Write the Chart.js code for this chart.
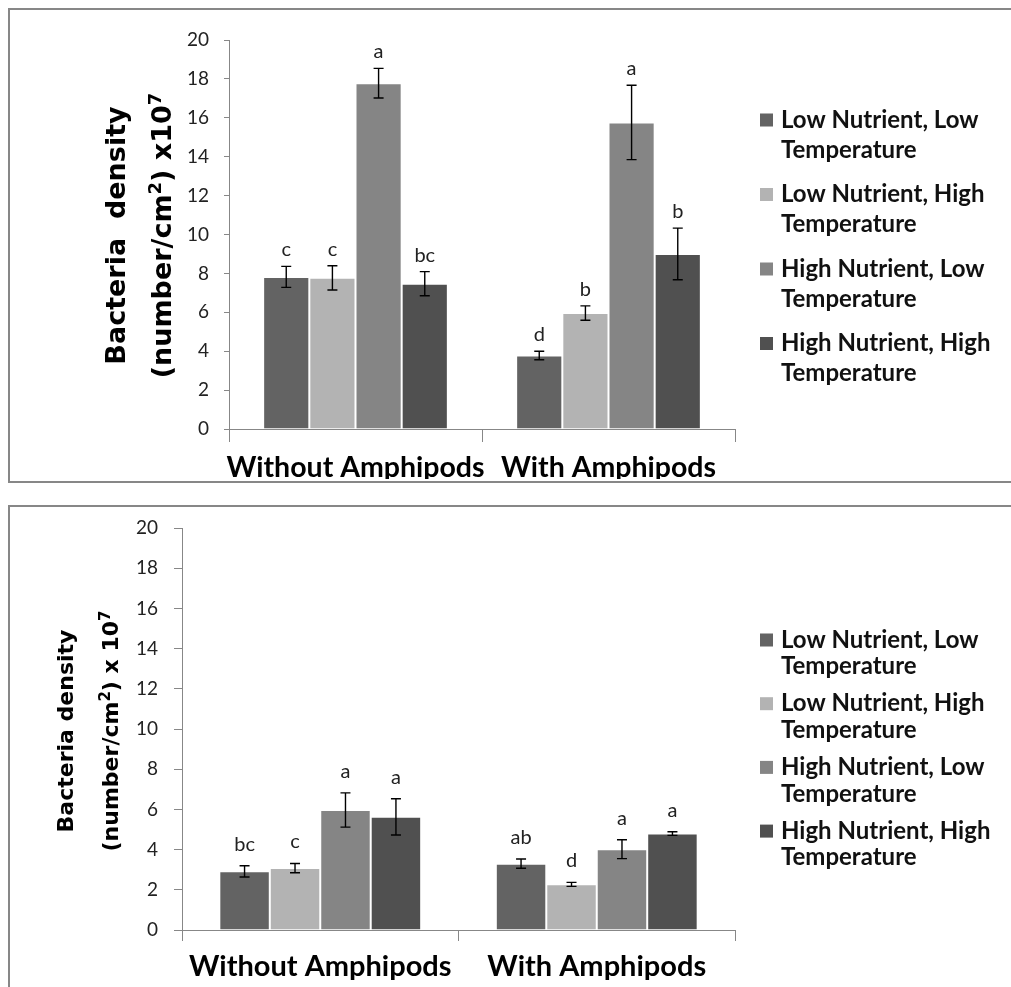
<!DOCTYPE html>
<html>
<head>
<meta charset="utf-8">
<title>Bacteria density</title>
<script src="https://cdn.jsdelivr.net/npm/chart.js@4.4.1/dist/chart.umd.min.js"></script>
<style>
  body { margin: 0; background: #fff; width: 1011px; height: 987px; overflow: hidden; position: relative; }
  .frame { position: absolute; border: 2px solid #878787; box-sizing: border-box; }
  #frameTop { left: 8px; top: 8px; width: 1020px; height: 475px; }
  #frameBottom { left: 8px; top: 505px; width: 1020px; height: 500px; }
  canvas { position: absolute; left: 0; }
  #chartTop { top: 0; }
  #chartBottom { top: 490px; }
</style>
</head>
<body>
<div class="frame" id="frameTop"></div>
<div class="frame" id="frameBottom"></div>
<canvas id="chartTop" width="1011" height="485"></canvas>
<canvas id="chartBottom" width="1011" height="497"></canvas>
<script>
// Data
const categories = ['Without Amphipods', 'With Amphipods'];
const seriesNames = [
    'Low Nutrient, Low Temperature',
    'Low Nutrient, High Temperature',
    'High Nutrient, Low Temperature',
    'High Nutrient, High Temperature'
];
const seriesColors = ['#636363', '#b3b3b3', '#858585', '#505050'];
const yTickValues = [0, 2, 4, 6, 8, 10, 12, 14, 16, 18, 20];

// top panel
const topLowLow = [7.82, 3.78];
const topLowHigh = [7.77, 5.96];
const topHighLow = [17.78, 15.76];
const topHighHigh = [7.47, 9.0];
const topLowLowErr = [0.54, 0.22];
const topLowHighErr = [0.62, 0.37];
const topHighLowErr = [0.76, 1.91];
const topHighHighErr = [0.62, 1.33];
const topLowLowSig = ['c', 'd'];
const topLowHighSig = ['c', 'b'];
const topHighLowSig = ['a', 'a'];
const topHighHighSig = ['bc', 'b'];

// bottom panel
const botLowLow = [2.92, 3.30];
const botLowHigh = [3.08, 2.27];
const botHighLow = [5.97, 4.02];
const botHighHigh = [5.63, 4.80];
const botLowLowErr = [0.28, 0.23];
const botLowHighErr = [0.23, 0.10];
const botHighLowErr = [0.85, 0.47];
const botHighHighErr = [0.90, 0.09];
const botLowLowSig = ['bc', 'ab'];
const botLowHighSig = ['c', 'd'];
const botHighLowSig = ['a', 'a'];
const botHighHighSig = ['a', 'a'];

const axisGrey = '#878787';

// Error bars + significance letters
const errorBarPlugin = {
    id: 'errorBars',
    afterDatasetsDraw(chart, args, o) {
        const ctx = chart.ctx;
        const y = chart.scales.y;
        ctx.save();
        chart.data.datasets.forEach((ds, di) => {
            const meta = chart.getDatasetMeta(di);
            meta.data.forEach((bar, i) => {
                const v = ds.data[i];
                const e = ds.errors[i];
                const yt = y.getPixelForValue(v + e);
                const yb = y.getPixelForValue(v - e);
                ctx.strokeStyle = '#000';
                ctx.lineWidth = 1.4;
                ctx.beginPath();
                ctx.moveTo(bar.x, yt); ctx.lineTo(bar.x, yb);
                ctx.moveTo(bar.x - o.cap, yt); ctx.lineTo(bar.x + o.cap, yt);
                ctx.moveTo(bar.x - o.cap, yb); ctx.lineTo(bar.x + o.cap, yb);
                ctx.stroke();
                ctx.fillStyle = '#222';
                ctx.font = o.letterFont;
                ctx.textAlign = 'center';
                ctx.textBaseline = 'alphabetic';
                ctx.fillText(ds.letters[i], bar.x, yt - o.letterGap);
            });
        });
        ctx.restore();
    }
};

// Legend on the right, labels wrapped on two lines
const sideLegendPlugin = {
    id: 'sideLegend',
    afterDraw(chart, args, o) {
        const ctx = chart.ctx;
        ctx.save();
        ctx.font = o.font;
        ctx.textBaseline = 'middle';
        ctx.textAlign = 'left';
        chart.data.datasets.forEach((ds, i) => {
            const words = ds.label.split(' ');
            const lines = [];
            let cur = '';
            words.forEach(w => {
                const test = cur ? cur + ' ' + w : w;
                if (cur && ctx.measureText(test).width > o.maxWidth) {
                    lines.push(cur);
                    cur = w;
                } else {
                    cur = test;
                }
            });
            lines.push(cur);
            const y0 = o.top + i * o.itemGap;
            ctx.fillStyle = ds.backgroundColor;
            ctx.fillRect(o.boxX, y0 - o.box / 2, o.box, o.box);
            ctx.fillStyle = '#111';
            lines.forEach((ln, k) => ctx.fillText(ln, o.textX, y0 + k * o.lineGap));
        });
        ctx.restore();
    }
};

// Rotated two-line y axis title, with superscripts drawn as smaller raised runs
const yTitlePlugin = {
    id: 'yTitle',
    afterDraw(chart, args, o) {
        const ctx = chart.ctx;
        const area = chart.chartArea;
        const cy = (area.top + area.bottom) / 2 + o.shift;
        const fam = '"DejaVu Sans", Verdana, sans-serif';
        const supSize = Math.round(o.size * 0.68);
        ctx.save();
        ctx.fillStyle = '#000';
        ctx.textAlign = 'left';
        ctx.textBaseline = 'alphabetic';
        o.lines.forEach((segs, k) => {
            let total = 0;
            segs.forEach(([txt, sup]) => {
                ctx.font = 'bold ' + (sup ? supSize : o.size) + 'px ' + fam;
                total += ctx.measureText(txt).width;
            });
            ctx.save();
            ctx.translate(o.baselines[k], cy);
            ctx.rotate(-Math.PI / 2);
            let x = -total / 2;
            segs.forEach(([txt, sup]) => {
                ctx.font = 'bold ' + (sup ? supSize : o.size) + 'px ' + fam;
                ctx.fillText(txt, x, sup ? -o.size * 0.36 : 0);
                x += ctx.measureText(txt).width;
            });
            ctx.restore();
        });
        ctx.restore();
    }
};

function makePanel(canvasId, values, errors, letters, geo) {
    const datasets = seriesNames.map((name, i) => ({
        label: name,
        data: values[i],
        errors: errors[i],
        letters: letters[i],
        backgroundColor: seriesColors[i],
        borderColor: 'rgba(255,255,255,0.35)',
        borderWidth: 1,
        barPercentage: 1.0,
        categoryPercentage: 0.73
    }));

    return new Chart(document.getElementById(canvasId), {
        type: 'bar',
        data: { labels: categories, datasets: datasets },
        options: {
            responsive: false,
            animation: false,
            layout: { padding: geo.padding },
            scales: {
                x: {
                    grid: { drawOnChartArea: false, tickLength: geo.xTick, color: axisGrey },
                    border: { color: axisGrey },
                    ticks: {
                        autoSkip: false, maxRotation: 0, color: '#000', padding: geo.xPad,
                        font: { family: 'Lato', weight: 'bold', size: geo.xFont }
                    },
                    afterFit(scale) { scale.height = geo.xHeight; }
                },
                y: {
                    min: 0,
                    max: 20,
                    grid: { drawOnChartArea: false, tickLength: geo.yTick, color: axisGrey },
                    border: { color: axisGrey },
                    ticks: {
                        color: '#222', padding: geo.yPad,
                        font: { family: 'Lato', size: geo.yFont }
                    },
                    afterBuildTicks(scale) { scale.ticks = yTickValues.map(v => ({ value: v })); },
                    afterFit(scale) { scale.width = geo.yWidth; }
                }
            },
            plugins: {
                legend: { display: false },
                tooltip: { enabled: false },
                errorBars: { cap: 5, letterFont: '20px Lato', letterGap: geo.letterGap },
                sideLegend: geo.legend,
                yTitle: geo.title
            }
        },
        plugins: [errorBarPlugin, sideLegendPlugin, yTitlePlugin]
    });
}

makePanel('chartTop',
    [topLowLow, topLowHigh, topHighLow, topHighHigh],
    [topLowLowErr, topLowHighErr, topHighLowErr, topHighHighErr],
    [topLowLowSig, topLowHighSig, topHighLowSig, topHighHighSig],
    {
        padding: { left: 179, right: 276, top: 40, bottom: 6 },
        yWidth: 50, yTick: 5, yPad: 15, yFont: 19,
        xHeight: 50, xTick: 13, xPad: 9, xFont: 28.5,
        letterGap: 10,
        legend: { font: 'bold 24px Lato', top: 120, itemGap: 74.5, lineGap: 30, boxX: 760, box: 13, textX: 781, maxWidth: 215 },
        title: {
            size: 27,
            lines: [[['Bacteria  density', 0]], [['(number/cm', 0], ['2', 1], [') x10', 0], ['7', 1]]],
            baselines: [125, 171], shift: 1
        }
    });

makePanel('chartBottom',
    [botLowLow, botLowHigh, botHighLow, botHighHigh],
    [botLowLowErr, botLowHighErr, botHighLowErr, botHighHighErr],
    [botLowLowSig, botLowHighSig, botHighLowSig, botHighHighSig],
    {
        padding: { left: 132, right: 276, top: 38, bottom: 7 },
        yWidth: 50, yTick: 8, yPad: 16, yFont: 19,
        xHeight: 50, xTick: 11, xPad: 8, xFont: 29,
        letterGap: 15,
        legend: { font: 'bold 24px Lato', top: 150, itemGap: 63.7, lineGap: 26.5, boxX: 760, box: 13, textX: 781, maxWidth: 215 },
        title: {
            size: 22,
            lines: [[['Bacteria density', 0]], [['(number/cm', 0], ['2', 1], [') x 10', 0], ['7', 1]]],
            baselines: [73, 118], shift: 2
        }
    });
</script>
</body>
</html>
